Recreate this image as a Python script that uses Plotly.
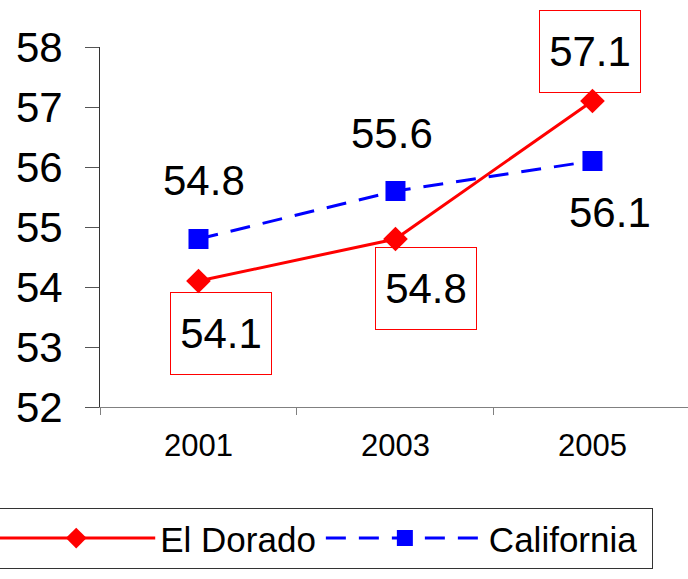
import plotly.graph_objects as go

years = ["2001", "2003", "2005"]
el_dorado = [54.1, 54.8, 57.1]
california = [54.8, 55.6, 56.1]

# label offsets in px from each point (x, y up)
el_dorado_label_shift = [(23, -52), (31, -49), (-2, 50)]
california_label_shift = [(6, 59), (-3, 58), (18, -51)]

FONT = "Liberation Sans, Arial, sans-serif"

fig = go.Figure()
fig.add_trace(go.Scatter(
    x=years, y=el_dorado, name="El Dorado", mode="lines+markers",
    line=dict(color="#FF0000", width=3),
    marker=dict(symbol="diamond", size=19, color="#FF0000"),
))
fig.add_trace(go.Scatter(
    # trailing nbsp widens the legend box on the right like the original
    x=years, y=california, name="California\u00a0", mode="lines+markers",
    line=dict(color="#0000FF", width=3, dash="20px,13px"),
    marker=dict(symbol="square", size=20, color="#0000FF"),
))

# value labels: El Dorado boxed in red, California plain
# (category index used for x, numeric-looking category strings get read as indices)
for i, (v, (dx, dy)) in enumerate(zip(el_dorado, el_dorado_label_shift)):
    fig.add_annotation(
        x=i, y=v, xref="x", yref="y", text=f"{v:.1f}", showarrow=False,
        xshift=dx, yshift=dy, width=100, height=81,
        bordercolor="#FF0000", borderwidth=1, borderpad=0,
        font=dict(size=42, color="black", family=FONT),
    )
for i, (v, (dx, dy)) in enumerate(zip(california, california_label_shift)):
    fig.add_annotation(
        x=i, y=v, xref="x", yref="y", text=f"{v:.1f}", showarrow=False,
        xshift=dx, yshift=dy,
        font=dict(size=42, color="black", family=FONT),
    )

fig.update_layout(
    width=688, height=579,
    margin=dict(l=100, r=0, t=47, b=172, autoexpand=False),
    paper_bgcolor="white", plot_bgcolor="white",
    font=dict(family=FONT, color="black"),
    showlegend=True,
    legend=dict(
        orientation="h", x=-0.185, xanchor="left", y=-0.28, yanchor="top",
        bordercolor="#333333", borderwidth=1,
        font=dict(size=35, family=FONT), itemwidth=158,
    ),
)
fig.update_xaxes(
    type="category", range=[-0.5, 2.485],
    showline=True, linecolor="#808080", linewidth=1,
    ticks="outside", tickson="boundaries", ticklen=7, tickcolor="#808080",
    showgrid=False, zeroline=False,
    tickfont=dict(size=31, family=FONT), ticklabelstandoff=11,
)
fig.update_yaxes(
    range=[52, 58], tickvals=[52, 53, 54, 55, 56, 57, 58],
    showline=True, linecolor="#333333", linewidth=1,
    ticks="outside", ticklen=14, tickcolor="#555555",
    showgrid=False, zeroline=False,
    tickfont=dict(size=42, family=FONT), ticklabelstandoff=14,
)

fig.write_html("out.html", post_script="document.body.style.margin='0';",
               config={"displayModeBar": False})
